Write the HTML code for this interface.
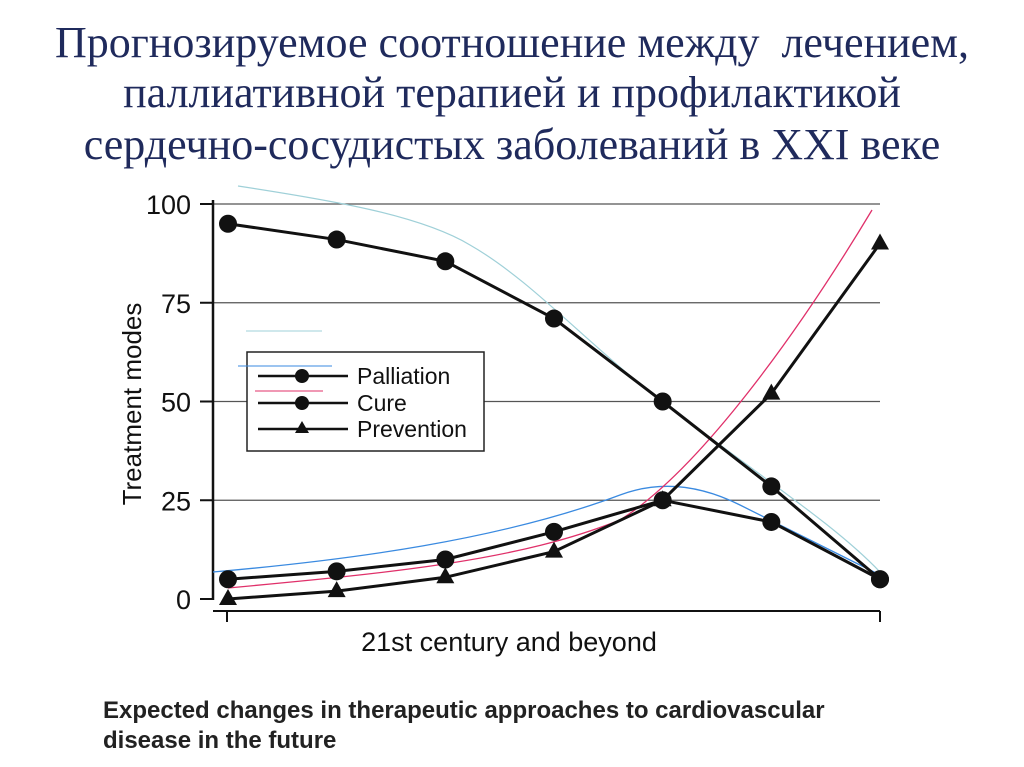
<!DOCTYPE html>
<html><head><meta charset="utf-8"><style>
body{margin:0;width:1024px;height:767px;background:#fff;overflow:hidden;position:relative;font-family:"Liberation Sans",sans-serif}
.t{position:absolute;left:0;width:1024px;text-align:center;font-family:"Liberation Serif","Noto Serif CJK SC",serif;font-size:44px;color:#1f2a5c;white-space:nowrap}
.cap{position:absolute;left:103px;font-weight:bold;font-size:24px;color:#222;white-space:nowrap}
</style></head><body>
<div class="t" style="top:17px">Прогнозируемое соотношение между&nbsp; лечением,</div>
<div class="t" style="top:67px">паллиативной терапией и профилактикой</div>
<div class="t" style="top:119px">сердечно-сосудистых заболеваний в XXI веке</div>
<svg id="chart" width="1024" height="767" style="position:absolute;left:0;top:0" font-family="Liberation Sans, sans-serif"></svg>
<div class="cap" style="top:697px">Expected changes in therapeutic approaches to cardiovascular</div>
<div class="cap" style="top:727px">disease in the future</div>
<script>
const categories=[1,2,3,4,5,6,7];
const yTicks=[0,25,50,75,100];
const palliation=[95,91,85.5,71,50,28.5,5];
const cure=[5,7,10,17,25,19.5,5];
const prevention=[0,2,5.5,12,25,52,90];
const NS="http://www.w3.org/2000/svg";
const svg=document.getElementById('chart');
const x0=228,x1=880,y0=599,y100=204;
const xs=i=>x0+(x1-x0)*i/(categories.length-1);
const ys=v=>y0-(y0-y100)*v/100;
function mk(t,a,p){const e=document.createElementNS(NS,t);for(const k in a)e.setAttribute(k,a[k]);(p||svg).appendChild(e);return e;}
yTicks.forEach(v=>{
 const g=mk('line',{x1:200,x2:880,y1:ys(v),y2:ys(v),stroke:v==0?'none':'#555','stroke-width':1.2});
 
 mk('line',{x1:200,x2:213,y1:ys(v),y2:ys(v),stroke:'#111','stroke-width':2});
 const t=mk('text',{x:191,y:ys(v)+10,'text-anchor':'end','font-size':27,fill:'#111'});t.textContent=v;
 
});
mk('line',{x1:213,x2:213,y1:200,y2:600,stroke:'#111','stroke-width':2.5});
mk('line',{x1:213,x2:880,y1:611,y2:611,stroke:'#111','stroke-width':2});
mk('line',{x1:227,x2:227,y1:611,y2:622,stroke:'#111','stroke-width':2});
mk('line',{x1:880,x2:880,y1:611,y2:622,stroke:'#111','stroke-width':2});
const yt=mk('text',{x:0,y:0,transform:'translate(141,404) rotate(-90)','text-anchor':'middle','font-size':26,fill:'#111'});yt.textContent='Treatment modes';

const xt=mk('text',{x:509,y:651,'text-anchor':'middle','font-size':27,fill:'#111'});xt.textContent='21st century and beyond';

mk('path',{d:'M238,186 C330,200 420,215 470,245 C540,285 600,360 700,430 C780,490 840,530 880,572',fill:'none',stroke:'#9fd0d8','stroke-width':1.2});
mk('path',{d:'M213,572 C350,560 500,540 620,495 C660,480 700,485 740,505 C800,535 850,560 880,575',fill:'none',stroke:'#3a8ae0','stroke-width':1.3});
mk('path',{d:'M228,588 C400,572 520,560 620,520 C700,470 800,330 872,210',fill:'none',stroke:'#e0306a','stroke-width':1.3});
function series(vals,name,marker){
 const g=mk('g',{});
 mk('polyline',{points:vals.map((v,i)=>xs(i)+','+ys(v)).join(' '),fill:'none',stroke:'#111','stroke-width':3},g);
 vals.forEach((v,i)=>{let m;
  if(marker=='c')m=mk('circle',{cx:xs(i),cy:ys(v),r:9,fill:'#111'},g);
  else m=mk('polygon',{points:`${xs(i)},${ys(v)-10} ${xs(i)-9},${ys(v)+6} ${xs(i)+9},${ys(v)+6}`,fill:'#111'},g);
  });
}
series(palliation,'palliation','c');series(cure,'cure','c');series(prevention,'prevention','t');
const lg=mk('g',{});
mk('rect',{x:247,y:352,width:237,height:99,fill:'#fff',stroke:'#222','stroke-width':1.5},lg);
mk('line',{x1:246,x2:322,y1:331,y2:331,stroke:'#9fd0d8','stroke-width':1},lg);
mk('line',{x1:238,x2:332,y1:366,y2:366,stroke:'#3a8ae0','stroke-width':1},lg);
mk('line',{x1:255,x2:323,y1:391,y2:391,stroke:'#e0306a','stroke-width':1},lg);
[['Palliation','c',376],['Cure','c',403],['Prevention','t',429]].forEach(([n,m,y])=>{
 const e=mk('g',{},lg);
 mk('line',{x1:258,x2:348,y1:y,y2:y,stroke:'#111','stroke-width':2.5},e);
 if(m=='c')mk('circle',{cx:302,cy:y,r:7,fill:'#111'},e);else mk('polygon',{points:`302,${y-8} 295,${y+4} 309,${y+4}`,fill:'#111'},e);
 const t=mk('text',{x:357,y:y+8,'font-size':23,fill:'#111'},e);t.textContent=n;
});
</script>
</body></html>
